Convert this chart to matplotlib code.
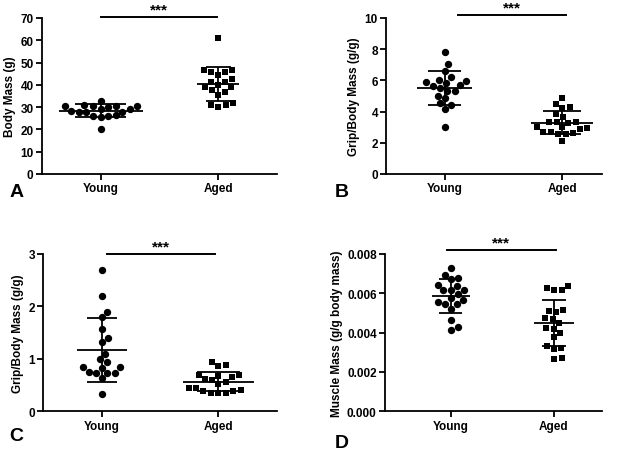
import numpy as np
import matplotlib
matplotlib.use('Agg')
import matplotlib.pyplot as plt
from matplotlib.ticker import FormatStrFormatter

plt.rcParams['font.family'] = ['Liberation Sans', 'DejaVu Sans']
plt.rcParams['font.weight'] = 'bold'
plt.rcParams['axes.labelweight'] = 'bold'

# ── data ───────────────────────────────────────────────────
groups = ['Young', 'Aged']

# A: body mass (g)
mass_young = [32.9, 29.2, 30.4, 30.1, 30.3, 30.3, 30.3, 31.0, 29.2, 28.0,
              27.7, 26.5, 26.2, 25.4, 26.2, 27.7, 28.4, 20.2]
mass_aged = [61.0, 46.7, 45.9, 45.9, 46.7, 44.4, 42.6, 41.1, 41.4, 39.9,
             38.9, 38.9, 36.6, 35.6, 37.7, 31.0, 30.2, 31.0, 31.7]

# B: grip / body mass (g/g)
gripB_young = [7.80, 7.05, 6.62, 6.20, 5.94, 5.83, 6.03, 5.88, 5.62, 5.71,
               5.51, 5.34, 5.34, 4.87, 5.02, 4.42, 4.53, 4.17, 3.03]
gripB_aged = [4.87, 4.49, 4.27, 4.21, 3.63, 3.85, 3.35, 3.35, 3.27, 3.35,
              3.03, 2.93, 2.88, 2.99, 2.71, 2.61, 2.56, 2.56, 2.67, 2.14]

# C: grip / body mass (g/g)
gripC_young = [2.70, 2.19, 1.90, 1.79, 1.57, 1.32, 1.39, 1.10, 0.99, 0.84,
               0.83, 0.84, 0.93, 0.73, 0.73, 0.73, 0.75, 0.63, 0.33]
gripC_aged = [0.93, 0.86, 0.88, 0.70, 0.65, 0.67, 0.70, 0.59, 0.56, 0.61,
              0.51, 0.44, 0.38, 0.35, 0.35, 0.35, 0.38, 0.40, 0.45]

# D: muscle mass (g/g body mass)
muscle_young = [0.00728, 0.00677, 0.00694, 0.00672, 0.00617, 0.00643, 0.00638,
                0.00617, 0.00617, 0.00595, 0.00578, 0.00554, 0.00544, 0.00566,
                0.00546, 0.00519, 0.00464, 0.00413, 0.00430]
muscle_aged = [0.00635, 0.00614, 0.00614, 0.00626, 0.00515, 0.00503, 0.00510,
               0.00472, 0.00469, 0.00418, 0.00421, 0.00379, 0.00399, 0.00316,
               0.00333, 0.00324, 0.00268, 0.00271, 0.00447]

W, H, DPI = 6.25, 4.52, 100
DIAM = 7.6   # marker spacing in px


def swarm(vals, sx, sy):
    """Simple beeswarm: x offsets (data units) so markers don't overlap."""
    y = np.asarray(vals, dtype=float) * sy
    xs = np.zeros(len(y))
    placed = []
    for i in np.argsort(y):
        cands = [0.0]
        for px, py in placed:
            dy = y[i] - py
            if abs(dy) < DIAM:
                dx = np.sqrt(DIAM**2 - dy**2)
                cands += [px + dx, px - dx]
        cands.sort(key=lambda c: (round(abs(c), 3), -c))
        for c in cands:
            if all((c - px)**2 + (y[i] - py)**2 >= DIAM**2 - 1e-6 for px, py in placed):
                xs[i] = c
                break
        placed.append((xs[i], y[i]))
    return xs / sx


fig = plt.figure(figsize=(W, H), dpi=DPI)

panels = [
    dict(rect=[0.067, 0.613, 0.376, 0.345], young=mass_young, aged=mass_aged,
         ylim=70, step=10, fmt='%d', label='Body Mass (g)', letter='A',
         lpos=(0.015, 0.555), xlim=(-0.5, 1.5), sig=(0.0, 0.99, 70.5)),
    dict(rect=[0.618, 0.613, 0.345, 0.345], young=gripB_young, aged=gripB_aged,
         ylim=10, step=2, fmt='%d', label='Grip/Body Mass (g/g)', letter='B',
         lpos=(0.535, 0.555), xlim=(-0.5, 1.34), sig=(0.11, 1.03, 10.2)),
    dict(rect=[0.069, 0.088, 0.374, 0.348], young=gripC_young, aged=gripC_aged,
         ylim=3, step=1, fmt='%d', label='Grip/Body Mass (g/g)', letter='C',
         lpos=(0.015, 0.015), xlim=(-0.5, 1.5), sig=(0.05, 0.97, 3.0)),
    dict(rect=[0.616, 0.088, 0.347, 0.348], young=muscle_young, aged=muscle_aged,
         ylim=0.008, step=0.002, fmt='%.3f', label='Muscle Mass (g/g body mass)',
         letter='D', lpos=(0.535, 0.0), xlim=(-0.64, 1.465), sig=(-0.04, 1.02, 0.00822)),
]

for p in panels:
    ax = fig.add_axes(p['rect'])
    ax.set_xlim(*p['xlim'])
    ax.set_ylim(0, p['ylim'])
    ax_w = p['rect'][2] * W * DPI
    ax_h = p['rect'][3] * H * DPI
    sx = ax_w / (p['xlim'][1] - p['xlim'][0])
    sy = ax_h / p['ylim']

    for xi, (vals, mk) in enumerate([(p['young'], 'o'), (p['aged'], 's')]):
        vals = np.asarray(vals)
        off = swarm(vals, sx, sy)
        ax.scatter(xi + off, vals, marker=mk, s=28 if mk == 'o' else 24,
                   color='black', linewidths=0, zorder=3, clip_on=False)
        m, sd = vals.mean(), vals.std(ddof=1)
        half = np.abs(off).max() + 6.0 / sx
        ax.hlines(m, xi - half, xi + half, color='black', lw=1.3, zorder=2)
        ax.hlines([m - sd, m + sd], xi - 0.6 * half, xi + 0.6 * half,
                  color='black', lw=1.3, zorder=2)
        ax.vlines(xi, m - sd, m + sd, color='black', lw=1.3, zorder=2)

    # significance bar
    x0, x1, ys = p['sig']
    ax.plot([x0, x1], [ys, ys], color='black', lw=1.4, clip_on=False)
    ax.text((x0 + x1) / 2, ys, '***', ha='center', va='bottom',
            fontsize=11, fontweight='bold', clip_on=False)

    ax.set_yticks(np.arange(0, p['ylim'] + p['step'] / 2, p['step']))
    ax.yaxis.set_major_formatter(FormatStrFormatter(p['fmt']))
    ax.set_xticks([0, 1])
    ax.set_xticklabels(groups, fontsize=9, fontweight='bold')
    ax.set_ylabel(p['label'], fontsize=8.5, fontweight='bold', labelpad=3)
    for s in ('top', 'right'):
        ax.spines[s].set_visible(False)
    for s in ('left', 'bottom'):
        ax.spines[s].set_linewidth(1.3)
    ax.tick_params(direction='out', length=4, width=1.3, labelsize=8.5, pad=2)

    fig.text(p['lpos'][0], p['lpos'][1], p['letter'], fontsize=14,
             fontweight='bold', ha='left', va='bottom')

fig.savefig('out.png', dpi=DPI)
